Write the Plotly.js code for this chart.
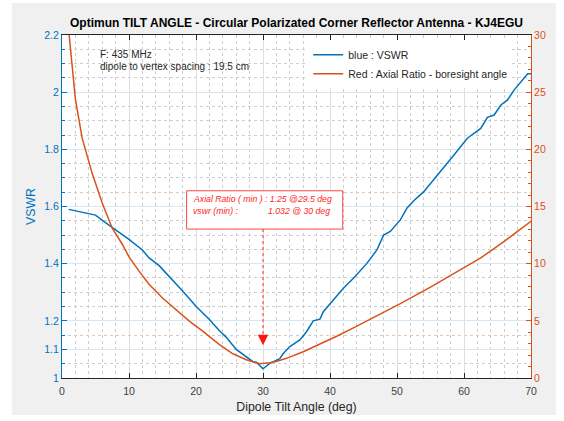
<!DOCTYPE html>
<html>
<head>
<meta charset="utf-8">
<script src="https://cdn.plot.ly/plotly-3.0.1.min.js"></script>
<style>html,body{margin:0;padding:0;background:#fff;}#chart{width:564px;height:421px;}</style>
</head>
<body>
<div id="chart"></div>
<script>
// ---- data ----
const vswrAngle = [1, 5, 7, 10, 12, 13, 14.5, 16, 18, 20, 22, 23.5, 24.5, 26, 27.5, 28.5, 29, 30, 31, 32.5, 33, 34, 35.5, 36.5, 37.5, 38.5, 39, 40.5, 42, 43.5, 45.5, 47, 48, 49, 50.5, 51.5, 52.5, 54, 56.5, 58.5, 60.5, 62.5, 63.5, 64.5, 65.5, 66.5, 67.5, 69.5, 70];
const vswrValues = [1.590, 1.570, 1.535, 1.485, 1.448, 1.420, 1.393, 1.356, 1.304, 1.251, 1.205, 1.165, 1.143, 1.100, 1.075, 1.057, 1.055, 1.032, 1.051, 1.068, 1.085, 1.110, 1.133, 1.162, 1.200, 1.206, 1.232, 1.275, 1.314, 1.349, 1.401, 1.448, 1.500, 1.513, 1.553, 1.595, 1.620, 1.652, 1.722, 1.780, 1.839, 1.873, 1.912, 1.920, 1.955, 1.973, 2.008, 2.064, 2.064];
const arAngle = [1, 2, 3, 4.5, 6, 7.5, 9, 10, 11.5, 13, 15, 17, 19, 21, 23.5, 25.5, 27.5, 29.5, 31, 32, 33.5, 36, 38.5, 41, 43.5, 46, 48, 50.5, 55, 58, 62.5, 66, 70];
const arValues = [30.4, 24.4, 21.0, 17.9, 15.3, 13.1, 11.7, 10.6, 9.35, 8.2, 7.0, 5.98, 4.97, 4.1, 2.92, 2.12, 1.6, 1.25, 1.33, 1.45, 1.72, 2.3, 2.95, 3.65, 4.38, 5.12, 5.72, 6.5, 7.95, 8.95, 10.5, 11.95, 13.7];
const xTicks = [0, 10, 20, 30, 40, 50, 60, 70];
const vswrTicks = [1, 1.1, 1.2, 1.4, 1.6, 1.8, 2, 2.2];
const vswrTickText = ['1', '1.1', '1.2', '1.4', '1.6', '1.8', '2', '2.2'];
const arTicks = [0, 5, 10, 15, 20, 25, 30];
const seriesNames = ['blue : VSWR', 'Red : Axial Ratio - boresight angle'];
const titleText = 'Optimun TILT ANGLE - Circular Polarizated Corner Reflector Antenna - KJ4EGU';
const noteLines = ['F: 435 MHz', 'dipole to vertex spacing : 19.5 cm'];
const boxLine1 = 'Axial Ratio ( min ) : 1.25 @29.5 deg';
const boxLine2a = 'vswr (min) :';
const boxLine2b = '1.032 @ 30 deg';
const minAngle = 30;

const BLUE = '#0072BD';
const ORANGE = '#D95319';
const FONT = 'Liberation Sans, Arial, sans-serif';
const RED = 'rgb(255,30,30)';

const traces = [
  {x: vswrAngle, y: vswrValues, name: seriesNames[0], type: 'scatter', mode: 'lines',
   line: {color: BLUE, width: 1.5}, yaxis: 'y'},
  {x: arAngle, y: arValues, name: seriesNames[1], type: 'scatter', mode: 'lines',
   line: {color: ORANGE, width: 1.5}, yaxis: 'y2'}
];

const layout = {
  width: 564, height: 421,
  margin: {l: 62, r: 33, t: 35, b: 43},
  paper_bgcolor: '#ffffff',
  plot_bgcolor: 'rgba(0,0,0,0)',
  font: {family: FONT, size: 10, color: '#262626'},
  showlegend: true,
  title: {text: '<b>' + titleText + '</b>', x: 0.5, xref: 'paper', xanchor: 'center',
          y: 1 - 23/421, yanchor: 'middle', font: {family: FONT, size: 12, color: '#000000'}},
  xaxis: {
    range: [0, 70], tickmode: 'array', tickvals: xTicks,
    ticks: 'inside', ticklen: 5, tickcolor: '#262626', showline: true, linecolor: '#262626', linewidth: 1,
    mirror: 'ticks', zeroline: false, ticklabelstandoff: 3,
    showgrid: true, gridcolor: 'rgb(222,222,222)', gridwidth: 1,
    minor: {tickmode: 'linear', tick0: 0, dtick: 2, showgrid: true, gridcolor: 'rgb(205,205,205)', griddash: 'dot', gridwidth: 1, ticks: ''},
    tickfont: {family: FONT, size: 10.5, color: '#404040'},
    title: {text: 'Dipole Tilt Angle (deg)', font: {family: FONT, size: 12.3, color: '#262626'}, standoff: 6}
  },
  yaxis: {
    range: [1, 2.2], tickmode: 'array', tickvals: vswrTicks, ticktext: vswrTickText,
    ticks: 'inside', ticklen: 5, tickcolor: BLUE, showline: true, linecolor: BLUE, linewidth: 1,
    zeroline: false, showgrid: true, gridcolor: 'rgb(214,232,245)', gridwidth: 1,
    minor: {tickmode: 'linear', tick0: 1, dtick: 0.05, showgrid: true, gridcolor: 'rgb(205,205,205)', griddash: 'dot', gridwidth: 1, ticks: 'inside', ticklen: 3, tickcolor: BLUE},
    tickfont: {family: FONT, size: 10.5, color: BLUE},
    title: {text: 'VSWR', font: {family: FONT, size: 12.3, color: BLUE}, standoff: 5}
  },
  yaxis2: {
    overlaying: 'y', side: 'right', range: [0, 30], tickmode: 'array', tickvals: arTicks,
    ticks: 'inside', ticklen: 5, tickcolor: ORANGE, showline: true, linecolor: ORANGE, linewidth: 1,
    zeroline: false, showgrid: false,
    minor: {tickmode: 'linear', tick0: 0, dtick: 1, showgrid: false, ticks: 'inside', ticklen: 3, tickcolor: ORANGE},
    tickfont: {family: FONT, size: 10.5, color: ORANGE}
  },
  legend: {x: 0.525, y: 0.985, xanchor: 'left', yanchor: 'top', bgcolor: '#ffffff', borderwidth: 0,
           font: {family: FONT, size: 10.5, color: '#262626'}},
  shapes: [
    // gray figure panel
    {type: 'rect', xref: 'paper', yref: 'paper', x0: -0.107, x1: 1.053, y0: -0.108, y1: 1.093,
     fillcolor: '#f0f0f0', line: {width: 0}, layer: 'below'},
    // white plot area
    {type: 'rect', xref: 'paper', yref: 'paper', x0: 0, x1: 1, y0: 0, y1: 1,
     fillcolor: '#ffffff', line: {width: 0}, layer: 'below'},
    // annotation box
    {type: 'rect', xref: 'x', yref: 'y', x0: 18.6, x1: 41.9, y0: 1.521, y1: 1.655,
     fillcolor: '#ffffff', line: {color: 'rgb(255,70,70)', width: 1}, layer: 'above'},
    // dotted pointer line
    {type: 'line', xref: 'x', yref: 'y', x0: minAngle, x1: minAngle, y0: 1.521, y1: 1.15,
     line: {color: 'rgb(255,40,40)', width: 1, dash: 'dot'}}
  ],
  annotations: [
    {xref: 'paper', yref: 'paper', x: 0.077, y: 0.9446, xanchor: 'left', yanchor: 'middle', showarrow: false,
     text: noteLines[0], font: {family: FONT, size: 10, color: '#262626'}},
    {xref: 'paper', yref: 'paper', x: 0.077, y: 0.9096, xanchor: 'left', yanchor: 'middle', showarrow: false,
     text: noteLines[1], font: {family: FONT, size: 10, color: '#262626'}},
    {xref: 'x', yref: 'y', x: 19.2, y: 1.625, xanchor: 'left', yanchor: 'middle', showarrow: false,
     text: '<i>' + boxLine1 + '</i>', font: {family: FONT, size: 8.7, color: RED}},
    {xref: 'x', yref: 'y', x: 19.2, y: 1.584, xanchor: 'left', yanchor: 'middle', showarrow: false,
     text: '<i>' + boxLine2a + '</i>', font: {family: FONT, size: 8.7, color: RED}},
    {xref: 'x', yref: 'y', x: 30.4, y: 1.584, xanchor: 'left', yanchor: 'middle', showarrow: false,
     text: '<i>' + boxLine2b + '</i>', font: {family: FONT, size: 8.7, color: RED}},
    {xref: 'x', yref: 'y', x: minAngle, y: 1.115, axref: 'x', ayref: 'y', ax: minAngle, ay: 1.15,
     text: '', showarrow: true, arrowhead: 2, arrowsize: 1.4, arrowwidth: 1.5, arrowcolor: 'rgb(255,20,20)'}
  ]
};

Plotly.newPlot('chart', traces, layout, {staticPlot: true, displayModeBar: false});
</script>
</body>
</html>
